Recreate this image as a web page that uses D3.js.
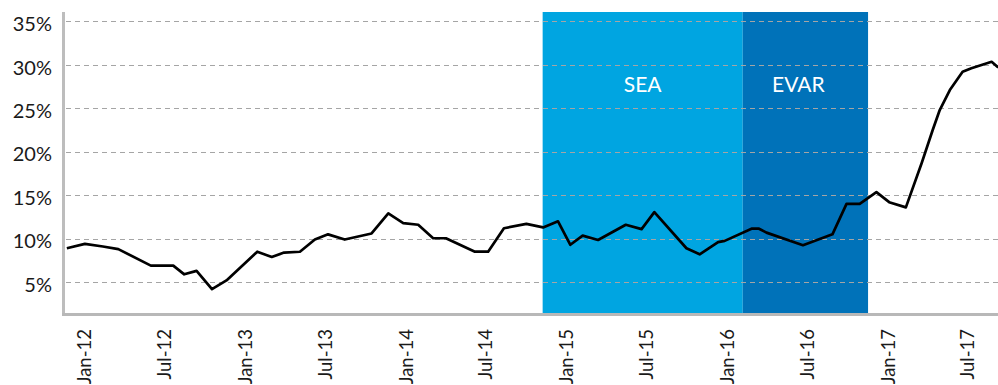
<!DOCTYPE html>
<html>
<head>
<meta charset="utf-8">
<script src="https://cdn.jsdelivr.net/npm/d3@7/dist/d3.min.js"></script>
<style>
  html, body { margin: 0; padding: 0; background: #ffffff; }
  svg { display: block; font-family: Lato, "Open Sans", sans-serif; }
</style>
</head>
<body>
<svg id="chart" width="998" height="385"></svg>
<script>
// Observation dates and rates (%) of the series
const dates = [
  "2011-11-23","2012-01-03","2012-02-13","2012-03-19","2012-06-01","2012-07-22",
  "2012-08-16","2012-09-13","2012-10-18","2012-11-20","2013-01-29","2013-03-03",
  "2013-03-31","2013-05-06","2013-06-09","2013-07-09","2013-08-16","2013-10-16",
  "2013-11-23","2013-12-27","2014-01-30","2014-03-05","2014-04-03","2014-06-08",
  "2014-07-08","2014-08-13","2014-10-03","2014-11-10","2014-12-14","2015-01-11",
  "2015-02-08","2015-03-15","2015-05-17","2015-06-22","2015-07-21","2015-10-02",
  "2015-11-01","2015-12-13","2015-12-28","2016-02-27","2016-03-15","2016-04-01",
  "2016-06-23","2016-08-29","2016-09-30","2016-10-30","2016-12-07","2017-01-05",
  "2017-02-12","2017-03-20","2017-04-14","2017-04-30","2017-05-23","2017-06-21",
  "2017-07-11","2017-08-26","2017-09-10"
];
const rates = [
  8.9, 9.4, 9.1, 8.8, 6.9, 6.9,
  5.9, 6.3, 4.2, 5.2, 8.5, 7.9,
  8.4, 8.5, 9.9, 10.5, 9.9, 10.6,
  12.9, 11.8, 11.6, 10.05, 10.05, 8.5,
  8.5, 11.2, 11.7, 11.3, 12.0, 9.3,
  10.35, 9.85, 11.6, 11.1, 13.05, 8.9,
  8.2, 9.6, 9.75, 11.15, 11.15, 10.7,
  9.25, 10.5, 14.0, 14.0, 15.35, 14.2,
  13.6, 18.7, 22.5, 24.8, 27.1, 29.2,
  29.6, 30.35, 29.7
];

// Shaded periods
const periodNames = ["SEA", "EVAR"];
const periodStarts = ["2014-11-09", "2016-02-07"];
const periodEnds = ["2016-02-07", "2016-11-18"];
const periodColors = ["#00a5e1", "#0072b9"];

// Axis ticks
const yTicks = [5, 10, 15, 20, 25, 30, 35];
const xTickDates = ["2012-01-01","2012-07-01","2013-01-01","2013-07-01","2014-01-01",
  "2014-07-01","2015-01-01","2015-07-01","2016-01-01","2016-07-01","2017-01-01","2017-07-01"];
const xTickLabels = ["Jan-12","Jul-12","Jan-13","Jul-13","Jan-14","Jul-14",
  "Jan-15","Jul-15","Jan-16","Jul-16","Jan-17","Jul-17"];

const parse = d3.utcParse("%Y-%m-%d");
const svg = d3.select("#chart");

const plotLeft = 64, plotRight = 998, plotTop = 12, plotBottom = 313;

const x = d3.scaleUtc()
  .domain([parse("2012-01-01"), parse("2017-07-01")])
  .range([84, 967]);
const y = d3.scaleLinear().domain([0, 35]).range([325.6, 21.4]);

svg.append("defs").append("clipPath").attr("id", "plotClip")
  .append("rect")
  .attr("x", plotLeft).attr("y", 0)
  .attr("width", plotRight - plotLeft).attr("height", plotBottom);

// Shaded periods
const bands = svg.append("g").attr("clip-path", "url(#plotClip)");
periodNames.forEach((name, i) => {
  const x0 = x(parse(periodStarts[i])), x1 = x(parse(periodEnds[i]));
  bands.append("rect")
    .attr("x", x0).attr("y", plotTop)
    .attr("width", x1 - x0).attr("height", plotBottom - plotTop)
    .attr("fill", periodColors[i]);
});

// Dashed horizontal gridlines
svg.append("g")
  .selectAll("line").data(yTicks).join("line")
  .attr("x1", plotLeft + 2).attr("x2", plotRight)
  .attr("y1", d => Math.round(y(d)) + 0.5).attr("y2", d => Math.round(y(d)) + 0.5)
  .attr("stroke", "#a5a5a5").attr("stroke-width", 1)
  .attr("stroke-dasharray", "5,4");

// Period labels
const labelOffsets = [0, -7];
periodNames.forEach((name, i) => {
  const x0 = x(parse(periodStarts[i])), x1 = x(parse(periodEnds[i]));
  svg.append("text")
    .attr("x", (x0 + x1) / 2 + labelOffsets[i]).attr("y", 92)
    .attr("text-anchor", "middle")
    .attr("fill", "#ffffff").attr("font-size", 21)
    .text(name);
});

// Series line
const series = dates.map((d, i) => ({ date: parse(d), value: rates[i] }));
svg.append("path")
  .datum(series)
  .attr("clip-path", "url(#plotClip)")
  .attr("fill", "none").attr("stroke", "#000000")
  .attr("stroke-width", 2.7).attr("stroke-linejoin", "round")
  .attr("d", d3.line().x(d => x(d.date)).y(d => y(d.value)));

// Axis lines
svg.append("line")
  .attr("x1", 63.5).attr("x2", 63.5).attr("y1", plotTop).attr("y2", plotBottom + 3)
  .attr("stroke", "#bdbdbd").attr("stroke-width", 3);
svg.append("line")
  .attr("x1", 62).attr("x2", plotRight).attr("y1", 314.5).attr("y2", 314.5)
  .attr("stroke", "#b8b8b8").attr("stroke-width", 3);

// Y axis labels
const yAxis = d3.axisLeft(y).tickValues(yTicks).tickFormat(d => d + "%").tickSize(0).tickPadding(0);
const yg = svg.append("g").attr("transform", "translate(52,0)").call(yAxis);
yg.select(".domain").remove();
yg.selectAll("text")
  .attr("font-family", "Lato, sans-serif").attr("font-size", 20)
  .attr("fill", "#1a1a1a").attr("dy", "0.46em");

// X axis labels, rotated
const xAxis = d3.axisBottom(x)
  .tickValues(xTickDates.map(parse))
  .tickFormat((d, i) => xTickLabels[i])
  .tickSize(0);
const xg = svg.append("g").attr("transform", "translate(0,329)").call(xAxis);
xg.select(".domain").remove();
xg.selectAll("text")
  .attr("font-family", "Lato, sans-serif").attr("font-size", 18.5)
  .attr("fill", "#1a1a1a")
  .attr("transform", "rotate(-90)")
  .attr("text-anchor", "end")
  .attr("x", 0).attr("y", 0).attr("dy", "0.36em");
</script>
</body>
</html>
